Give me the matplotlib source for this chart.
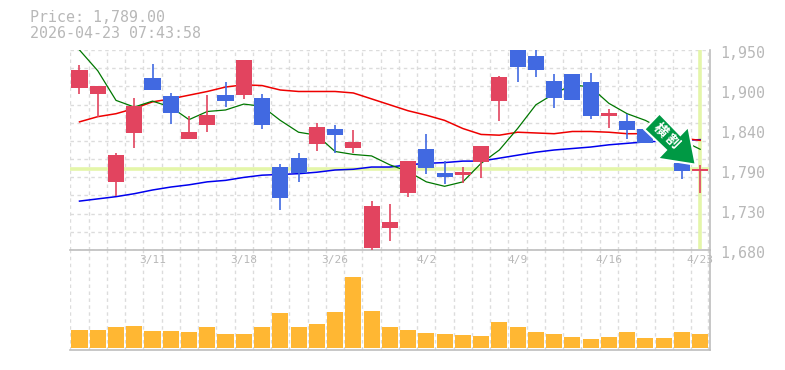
import matplotlib
matplotlib.use('Agg')
import matplotlib.pyplot as plt
from matplotlib.patches import Polygon

# price readings per session
opens = [1899, 1891, 1772, 1838, 1912, 1888, 1830, 1849, 1889, 1889, 1885, 1792, 1804, 1823, 1843, 1818, 1683, 1710,
         1757, 1816, 1784, 1781, 1799, 1881, 1950, 1942, 1908, 1918, 1907, 1861, 1854, 1843, 1848, 1797, 1787]
closes = [1923, 1901, 1808, 1874, 1896, 1865, 1839, 1862, 1881, 1936, 1849, 1750, 1784, 1846, 1835, 1826, 1739, 1718,
          1800, 1791, 1779, 1785, 1820, 1914, 1927, 1923, 1885, 1882, 1861, 1865, 1842, 1824, 1832, 1787, 1789]
highs = [1930, 1901, 1811, 1885, 1931, 1892, 1861, 1889, 1907, 1936, 1891, 1796, 1811, 1851, 1849, 1842, 1746, 1742,
         1800, 1837, 1800, 1792, 1820, 1915, 1950, 1950, 1918, 1918, 1919, 1870, 1864, 1843, 1850, 1800, 1795]
lows = [1891, 1860, 1753, 1818, 1896, 1850, 1830, 1839, 1873, 1884, 1843, 1734, 1772, 1814, 1811, 1811, 1680, 1692,
        1752, 1783, 1769, 1770, 1777, 1854, 1907, 1914, 1872, 1882, 1857, 1845, 1830, 1824, 1832, 1776, 1757]
ma_short = [1950, 1922, 1882, 1873, 1881, 1873, 1856, 1867, 1869, 1877, 1874, 1855, 1839, 1835, 1813, 1809, 1807, 1795,
            1786, 1772, 1766, 1772, 1797, 1815, 1844, 1876, 1891, 1903, 1900, 1878, 1864, 1855, 1842, 1828, 1816]
ma_mid = [1853, 1860, 1864, 1871, 1880, 1884, 1889, 1894, 1900, 1903, 1902, 1896, 1894, 1894, 1894, 1892, 1884, 1876,
          1868, 1862, 1855, 1844, 1836, 1835, 1839, 1838, 1837, 1840, 1840, 1839, 1837, 1837, 1834, 1831, 1828]
ma_long = [1746, 1749, 1752, 1756, 1761, 1765, 1768, 1772, 1774, 1778, 1781, 1782, 1783, 1785, 1788, 1789, 1792, 1792,
           1795, 1797, 1798, 1800, 1800, 1804, 1808, 1812, 1815, 1817, 1819, 1822, 1824, 1826, 1827, 1828, 1829]
volumes = [54, 54, 63, 66, 51, 51, 48, 63, 42, 42, 63, 105, 63, 72, 108, 213, 111, 63,
           54, 45, 42, 39, 36, 78, 63, 48, 42, 33, 27, 33, 48, 30, 30, 48, 42]
date_labels = ['3/11', '3/18', '3/26', '4/2', '4/9', '4/16', '4/23']
date_index = [4, 9, 14, 19, 24, 29, 34]
y_ticks = [1950, 1896, 1842, 1788, 1734, 1680]
y_labels = ['1,950', '1,900', '1,840', '1,790', '1,730', '1,680']
last_price = 1789

W, H = 785, 370
RED = '#e2445f'
BLUE = '#4169e1'
GRID = '#dcdcdc'
EDGE = '#bdbdbd'
TEXT = '#b8b8b8'
HILITE = '#e4f6a9'
MONO = 'DejaVu Sans Mono'

fig = plt.figure(figsize=(W / 100, H / 100), dpi=100)

def make_axes(top, bottom):
    return fig.add_axes([70 / W, 1 - bottom / H, 640 / W, (bottom - top) / H])

vol = make_axes(250, 349.5)
ax = make_axes(50, 250)

n = len(closes)
for a in (ax, vol):
    a.set_xlim(-0.52, n - 0.46)
    a.set_xticks([i - 0.5 for i in range(n)] + [n - 0.56])
    a.tick_params(length=0, labelbottom=False, labelleft=False)
    a.grid(axis='x', color=GRID, linestyle=(0, (2.5, 2.5)), linewidth=1)
    a.set_axisbelow(True)
    a.patch.set_visible(False)
    for s in a.spines.values():
        s.set_visible(False)
    for side in ('right', 'bottom'):
        a.spines[side].set_visible(True)
        a.spines[side].set_color(EDGE)
        a.spines[side].set_linewidth(1.2)

# price panel
ax.set_ylim(1680, 1950)
ax.set_yticks([1680 + 270 * i / 11 for i in range(12)])
ax.grid(axis='y', color=GRID, linestyle=(0, (2.5, 2.5)), linewidth=1)

ax.axhline(last_price, color=HILITE, linewidth=2.6, zorder=1.5)
ax.plot([n - 1, n - 1], [1682, 1950], color=HILITE, linewidth=2.6, zorder=1.5, solid_capstyle='butt')

ax.plot(range(n), ma_long, color='#0000ee', linewidth=1.1, zorder=2)
ax.plot(range(n), ma_mid, color='#ee0000', linewidth=1.1, zorder=2)
ax.plot(range(n), ma_short, color='#007700', linewidth=0.9, zorder=2)

for i in range(n):
    c = RED if closes[i] >= opens[i] else BLUE
    ax.plot([i, i], [lows[i], highs[i]], color=c, linewidth=1.2, zorder=3, solid_capstyle='butt')
    ax.bar(i, abs(closes[i] - opens[i]), bottom=min(opens[i], closes[i]), width=0.88, color=c, zorder=4)

# volume panel
vol.set_ylim(-4.5, 294)
vol.set_yticks([])
vol.bar(range(n), volumes, width=0.88, color='#ffb733', zorder=3)

# signal arrow, drawn in pixel positions
arrow = [(659.5, 113.5), (644.3, 129.3), (666, 150), (657.7, 158.7), (695.7, 164.7), (688.3, 126.7), (680.3, 135)]
fig.add_artist(Polygon([(x / W, 1 - y / H) for x, y in arrow], closed=True, transform=fig.transFigure,
                       facecolor='#009944', edgecolor='white', linewidth=1.5, zorder=6))
fig.text(660 / W, 1 - 130 / H, '横', color='white', fontsize=10, fontweight='bold', rotation=-45,
         ha='center', va='center', family=['Noto Sans CJK JP', 'DejaVu Sans'], zorder=7)
fig.text(672 / W, 1 - 141 / H, '割', color='white', fontsize=10, fontweight='bold', rotation=-45,
         ha='center', va='center', family=['Noto Sans CJK JP', 'DejaVu Sans'], zorder=7)

# labels
for t, l in zip(y_ticks, y_labels):
    ax.annotate(l, (1, t), xycoords=('axes fraction', 'data'), xytext=(10, -3), textcoords='offset pixels',
                color=TEXT, fontsize=10.8, family=MONO, ha='left', va='center', annotation_clip=False)
for i, l in zip(date_index, date_labels):
    ax.annotate(l, (i, 0), xycoords=('data', 'axes fraction'), xytext=(0, -10), textcoords='offset pixels',
                color=TEXT, fontsize=8, family=MONO, ha='center', va='center', annotation_clip=False, zorder=8)
fig.text(30 / W, 1 - 18 / H, 'Price: 1,789.00', color=TEXT, fontsize=10.8, family=MONO, va='center')
fig.text(30 / W, 1 - 33 / H, '2026-04-23 07:43:58', color=TEXT, fontsize=10.8, family=MONO, va='center')

fig.savefig('out.png', dpi=100)
